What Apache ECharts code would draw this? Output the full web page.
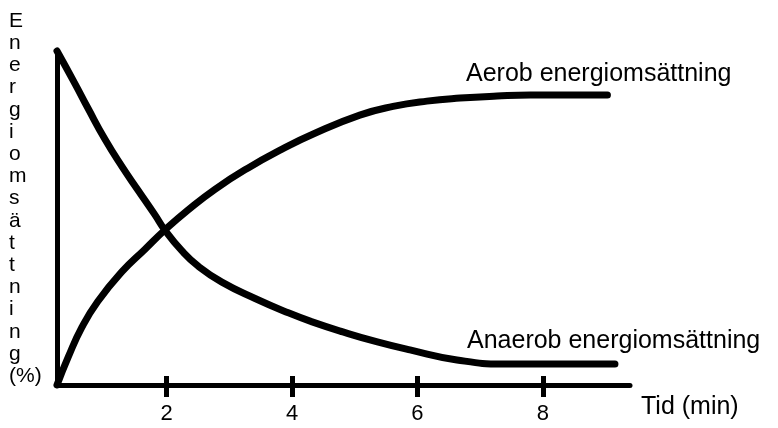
<!DOCTYPE html>
<html>
<head>
<meta charset="utf-8">
<script src="https://cdn.jsdelivr.net/npm/echarts@6/dist/echarts.min.js"></script>
<style>
  html, body { margin: 0; padding: 0; background: #fff; }
  #chart { width: 778px; height: 428px; }
</style>
</head>
<body>
<div id="chart"></div>
<script>
// tider (min) och energiomsättning (%)
let aerob_x = [0.25, 0.43, 0.65, 0.90, 1.29, 1.65, 1.97, 2.34, 2.77, 3.30, 3.84, 4.32, 5.08, 5.61, 6.15, 6.68, 7.27, 7.80, 9.03];
let aerob_y = [0, 8.4, 17.4, 25.0, 34.0, 40.6, 46.4, 52.4, 58.6, 65.0, 70.6, 75.0, 80.8, 83.4, 85.0, 85.9, 86.5, 86.8, 86.8];
let anaerob_x = [0.25, 0.54, 0.74, 1.02, 1.29, 1.54, 1.81, 1.97, 2.24, 2.50, 2.88, 3.41, 3.94, 4.32, 4.81, 5.36, 5.88, 6.63, 7.37, 9.15];
let anaerob_y = [100, 90.1, 83.0, 73.4, 65.3, 58.4, 51.0, 46.4, 40.2, 35.6, 30.8, 25.9, 21.6, 18.9, 15.9, 12.9, 10.5, 7.5, 6.3, 6.3];
let ticks = [2, 4, 6, 8];
let y_title = ["E", "n", "e", "r", "g", "i", "o", "m", "s", "ä", "t", "t", "n", "i", "n", "g", "(%)"];
let x_title = "Tid (min)";
let aerob_name = "Aerob energiomsättning";
let anaerob_name = "Anaerob energiomsättning";

function pairs(xs, ys) {
  return xs.map(function(x, i) { return [x, ys[i]]; });
}

let chart = echarts.init(document.getElementById("chart"));
let font = "Liberation Sans, Arial, sans-serif";
let curve = { color: "#000", width: 7, cap: "round", join: "round" };

let option = {
  animation: false,
  grid: { left: 57, right: 148, top: 51, bottom: 43 },
  xAxis: [
    {
      type: "value",
      min: 0.25,
      max: 9.39,
      splitLine: { show: false },
      axisLine: { lineStyle: { color: "#000", width: 5, cap: "round" } },
      axisTick: { customValues: ticks, length: 12, lineStyle: { color: "#000", width: 5 } },
      axisLabel: { customValues: ticks, margin: 18, color: "#000", fontSize: 22, fontFamily: font }
    },
    {
      type: "value",
      position: "bottom",
      min: 0.25,
      max: 9.39,
      splitLine: { show: false },
      axisLine: { show: false },
      axisTick: { customValues: ticks, inside: true, length: 9, lineStyle: { color: "#000", width: 5 } },
      axisLabel: { show: false }
    }
  ],
  yAxis: {
    type: "value",
    min: 0,
    max: 100,
    splitLine: { show: false },
    axisTick: { show: false },
    axisLabel: { show: false },
    axisLine: { show: true, lineStyle: { color: "#000", width: 5, cap: "round" } }
  },
  series: [
    {
      name: aerob_name,
      type: "line",
      data: pairs(aerob_x, aerob_y),
      smooth: 0.5,
      symbol: "none",
      clip: false,
      lineStyle: curve
    },
    {
      name: anaerob_name,
      type: "line",
      data: pairs(anaerob_x, anaerob_y),
      smooth: 0.5,
      symbol: "none",
      clip: false,
      lineStyle: curve
    }
  ],
  graphic: [
    {
      type: "text", left: 9, top: 10,
      style: { text: y_title.join("\n"), align: "center", lineHeight: 22.2, fontSize: 21, fontFamily: font, fill: "#000" }
    },
    {
      type: "text", left: 466, top: 62,
      style: { text: aerob_name, fontSize: 25, fontFamily: font, fill: "#000" }
    },
    {
      type: "text", left: 467, top: 329,
      style: { text: anaerob_name, fontSize: 25, fontFamily: font, fill: "#000" }
    },
    {
      type: "text", left: 641, top: 395,
      style: { text: x_title, fontSize: 25, fontFamily: font, fill: "#000" }
    }
  ]
};
chart.setOption(option);
</script>
</body>
</html>
